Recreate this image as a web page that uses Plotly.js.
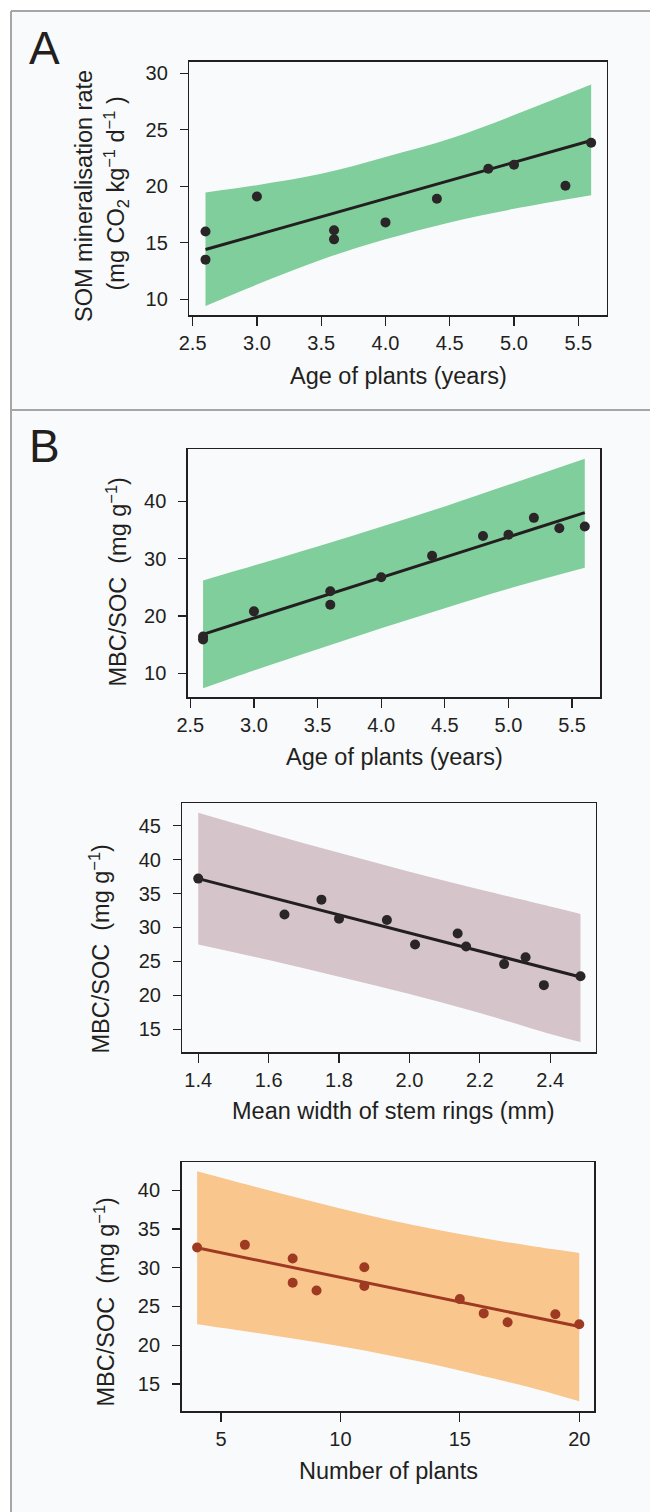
<!DOCTYPE html>
<html>
<head>
<meta charset="utf-8">
<script src="https://cdn.plot.ly/plotly-3.0.1.min.js"></script>
<style>
  html, body { margin: 0; padding: 0; background: #ffffff; }
  #chart { width: 650px; height: 1512px; }
</style>
</head>
<body>
<div id="chart"></div>
<script>
// ---------------- DATA ----------------
// Panel A: SOM mineralisation rate vs age of plants
const ageA = [2.6, 2.6, 3.0, 3.6, 3.6, 4.0, 4.4, 4.8, 5.0, 5.4, 5.6];
const somA = [16.0, 13.5, 19.1, 16.1, 15.3, 16.8, 18.9, 21.55, 21.9, 20.05, 23.85];
const fitXA = [2.6, 5.6];
const fitYA = [14.4, 24.05];
const bandXA = [2.6, 3.0, 3.5, 4.0, 4.5, 5.0, 5.6];
const bandUpA = [19.45, 20.1, 21.1, 22.6, 24.2, 26.3, 29.0];
const bandLoA = [9.4, 11.3, 13.5, 15.3, 16.8, 18.0, 19.2];

// Panel B1: MBC/SOC vs age of plants
const ageB = [2.6, 2.6, 3.0, 3.6, 3.6, 4.0, 4.4, 4.8, 5.0, 5.2, 5.4, 5.6];
const mbcAge = [16.4, 15.9, 20.8, 24.3, 21.95, 26.75, 30.5, 33.95, 34.15, 37.1, 35.3, 35.6];
const fitXB1 = [2.6, 5.6];
const fitYB1 = [16.8, 38.0];
const bandXB1 = [2.6, 3.0, 3.5, 4.0, 4.5, 5.0, 5.6];
const bandUpB1 = [26.2, 28.8, 32.1, 35.55, 39.1, 42.85, 47.4];
const bandLoB1 = [7.4, 10.5, 14.2, 17.85, 21.35, 24.75, 28.4];

// Panel B2: MBC/SOC vs mean width of stem rings
const ringW = [1.40, 1.645, 1.75, 1.80, 1.936, 2.016, 2.137, 2.161, 2.269, 2.33, 2.382, 2.486];
const mbcRing = [37.2, 31.9, 34.1, 31.3, 31.1, 27.5, 29.1, 27.2, 24.6, 25.6, 21.5, 22.8];
const fitXB2 = [1.4, 2.486];
const fitYB2 = [37.2, 22.7];
const bandXB2 = [1.4, 1.6, 1.8, 2.0, 2.2, 2.4, 2.486];
const bandUpB2 = [46.9, 43.9, 41.0, 38.2, 35.6, 33.1, 32.0];
const bandLoB2 = [27.5, 25.2, 22.75, 20.2, 17.4, 14.3, 13.1];

// Panel B3: MBC/SOC vs number of plants
const nPlants = [4, 6, 8, 8, 9, 11, 11, 15, 16, 17, 19, 20];
const mbcN = [32.6, 32.95, 31.2, 28.05, 27.05, 30.05, 27.65, 25.95, 24.1, 22.95, 24.0, 22.7];
const fitXB3 = [4, 20];
const fitYB3 = [32.57, 22.4];
const bandXB3 = [4, 6, 8, 10, 12, 14, 16, 18, 20];
const bandUpB3 = [42.45, 40.8, 39.2, 37.65, 36.2, 34.95, 33.8, 32.8, 31.9];
const bandLoB3 = [22.7, 21.8, 20.85, 19.85, 18.7, 17.45, 16.0, 14.5, 12.75];

// Text
const panelLabels = ['A', 'B'];
const xTitles = ['Age of plants (years)', 'Age of plants (years)', 'Mean width of stem rings (mm)', 'Number of plants'];
const yTitleA1 = 'SOM mineralisation rate';
const yTitleA2 = '(mg CO<sub>2</sub> kg<sup>\u22121</sup> d<sup>\u22121</sup> )';
const yTitleB = 'MBC/SOC\u00a0 (mg g<sup>\u22121</sup>)';

// ---------------- STYLE ----------------
const W = 650, H = 1512;
const px = x => x / W;
const py = y => 1 - y / H;
const FONT = 'Liberation Sans, Arial, Helvetica, sans-serif';
const INK = '#231f20';
const GREEN = '#80ce9b';
const MAUVE = '#d5c4ca';
const ORANGE = '#f9c78d';
const BROWN = '#9e3a22';
const DOT = '#2a2526';

function panelTraces(xa, ya, bx, lo, up, fx, fy, x, y, band, lineCol, dotCol) {
  return [
    {x: bx, y: lo, xaxis: xa, yaxis: ya, type: 'scatter', mode: 'lines',
     line: {width: 0, shape: 'spline'}, hoverinfo: 'skip'},
    {x: bx, y: up, xaxis: xa, yaxis: ya, type: 'scatter', mode: 'lines',
     line: {width: 0, shape: 'spline'}, fill: 'tonexty', fillcolor: band, hoverinfo: 'skip'},
    {x: fx, y: fy, xaxis: xa, yaxis: ya, type: 'scatter', mode: 'lines',
     line: {width: 3, color: lineCol}},
    {x: x, y: y, xaxis: xa, yaxis: ya, type: 'scatter', mode: 'markers',
     marker: {size: 10, color: dotCol, line: {width: 0}}}
  ];
}

const data = [].concat(
  panelTraces('x', 'y', bandXA, bandLoA, bandUpA, fitXA, fitYA, ageA, somA, GREEN, INK, DOT),
  panelTraces('x2', 'y2', bandXB1, bandLoB1, bandUpB1, fitXB1, fitYB1, ageB, mbcAge, GREEN, INK, DOT),
  panelTraces('x3', 'y3', bandXB2, bandLoB2, bandUpB2, fitXB2, fitYB2, ringW, mbcRing, MAUVE, INK, DOT),
  panelTraces('x4', 'y4', bandXB3, bandLoB3, bandUpB3, fitXB3, fitYB3, nPlants, mbcN, ORANGE, BROWN, BROWN)
);

function xax(l, r, range, dtick, fmt, anchor) {
  return {domain: [px(l), px(r)], range: range, anchor: anchor, dtick: dtick, tick0: 0,
    tickformat: fmt, showline: true, mirror: true, linecolor: INK, linewidth: 1.5,
    ticks: 'outside', ticklen: 9, tickwidth: 1.3, tickcolor: INK, ticklabelstandoff: 0,
    showgrid: false, zeroline: false, fixedrange: true,
    tickfont: {family: FONT, size: 20, color: INK}};
}
function yax(b, t, range, tickvals, anchor) {
  return {domain: [py(b), py(t)], range: range, anchor: anchor, tickvals: tickvals,
    showline: true, mirror: true, linecolor: INK, linewidth: 1.5,
    ticks: 'outside', ticklen: 8, tickwidth: 1.3, tickcolor: INK, ticklabelstandoff: 8,
    showgrid: false, zeroline: false, fixedrange: true,
    tickfont: {family: FONT, size: 20, color: INK}};
}

function ann(text, x, y, size, opts) {
  return Object.assign({text: text, xref: 'paper', yref: 'paper', x: px(x), y: py(y),
    xanchor: 'center', yanchor: 'middle', showarrow: false,
    font: {family: FONT, size: size, color: INK}}, opts || {});
}

const annotations = [
  ann(panelLabels[0], 27, 48.5, 46, {xanchor: 'left'}),
  ann(panelLabels[1], 27, 446, 46, {xanchor: 'left'}),
  ann(xTitles[0], 398, 376, 23.5),
  ann(xTitles[1], 394, 757, 23.5),
  ann(xTitles[2], 393.5, 1110.5, 23.5),
  ann(xTitles[3], 388.5, 1471, 23.5),
  ann(yTitleA1, 84, 196, 23.5, {textangle: -90}),
  ann(yTitleA2, 116, 193.5, 23.5, {textangle: -90}),
  ann(yTitleB, 116, 581.5, 23.5, {textangle: -90}),
  ann(yTitleB, 99.5, 949, 23.5, {textangle: -90}),
  ann(yTitleB, 104, 1302.5, 23.5, {textangle: -90})
];

const GRAY = '#a6a6a6';
const shapes = [
  {type: 'rect', xref: 'paper', yref: 'paper', x0: px(11), x1: 1.01, y0: -0.01, y1: py(11),
   fillcolor: '#f8fafc', line: {width: 0}, layer: 'below'},
  {type: 'line', xref: 'paper', yref: 'paper', x0: px(11), x1: 1.01, y0: py(11), y1: py(11),
   line: {color: GRAY, width: 2}, layer: 'below'},
  {type: 'line', xref: 'paper', yref: 'paper', x0: px(11), x1: px(11), y0: py(11), y1: -0.01,
   line: {color: GRAY, width: 2}, layer: 'below'},
  {type: 'line', xref: 'paper', yref: 'paper', x0: px(11), x1: 1.01, y0: py(410), y1: py(410),
   line: {color: GRAY, width: 2}, layer: 'below'}
];

const layout = {
  width: W, height: H,
  margin: {l: 0, r: 0, t: 0, b: 0, pad: 0},
  paper_bgcolor: '#ffffff', plot_bgcolor: 'rgba(0,0,0,0)',
  showlegend: false, hovermode: false,
  font: {family: FONT, color: INK},
  xaxis: xax(189.3, 606.7, [2.474, 5.721], 0.5, '.1f', 'y'),
  yaxis: yax(315, 61.7, [8.6, 31.03], [10, 15, 20, 25, 30], 'x'),
  xaxis2: xax(187.8, 600.3, [2.48, 5.722], 0.5, '.1f', 'y2'),
  yaxis2: yax(697.3, 449.3, [5.82, 49.05], [10, 20, 30, 40], 'x2'),
  xaxis3: xax(182.4, 595.8, [1.355, 2.5295], 0.2, '.1f', 'y3'),
  yaxis3: yax(1052.3, 803.3, [11.6, 48.3], [15, 20, 25, 30, 35, 40, 45], 'x3'),
  xaxis4: xax(181.6, 594.3, [3.35, 20.63], 5, 'd', 'y4'),
  yaxis4: yax(1411, 1162, [11.5, 43.65], [15, 20, 25, 30, 35, 40], 'x4'),
  annotations: annotations,
  shapes: shapes
};

Plotly.newPlot('chart', data, layout, {displayModeBar: false, staticPlot: true});
</script>
</body>
</html>
